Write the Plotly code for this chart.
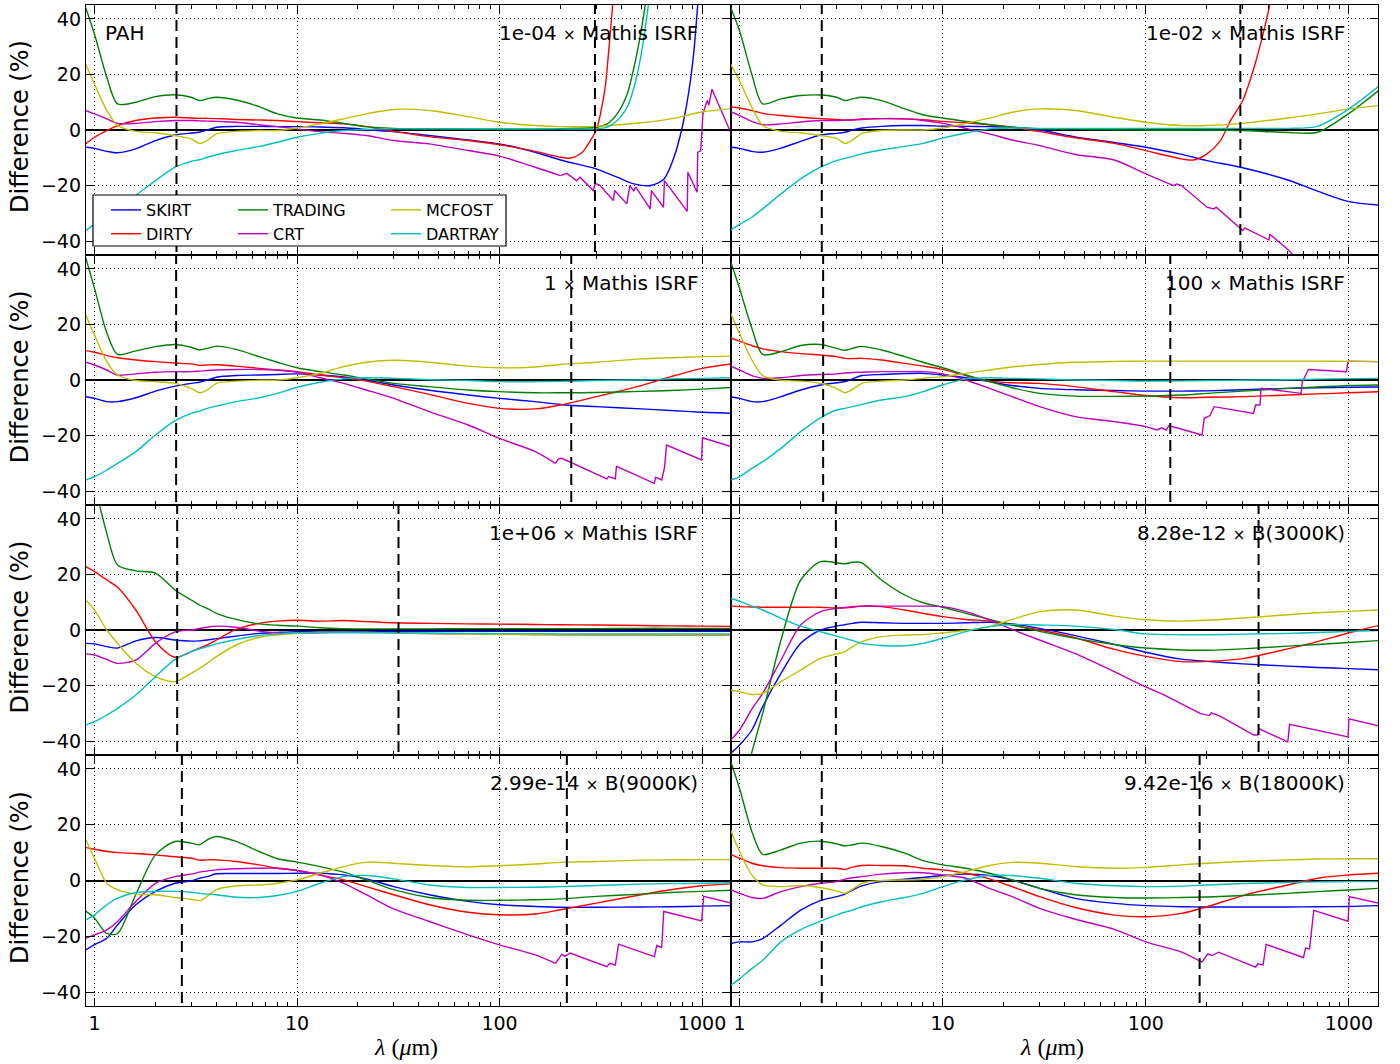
import plotly.graph_objects as go

# ---------------- data ----------------
W = [0.905, 1.0, 1.15, 1.3, 1.6, 2.0, 2.5, 3.0, 3.3, 3.6, 4.0, 5.0, 6.5, 8.0, 10, 13, 17, 22, 30,
     45, 70, 100, 150, 200, 300, 500, 700, 1000, 1395]
N = None

# Panel 1 : PAH, 1e-04 x Mathis ISRF
P1_SKIRT = [-6.2, -6.6, -7.7, -8.2, -6.8, -3.8, -1.8, -1.1, -0.8, 0.0, 1.0, 1.3, 1.3, 1.2, 1.2, 1.1, 0.8, 0.2, -0.6,
            -2.0, -3.6, -5.0, -8.0, -10.8, -14.0, N, N, N, N]
P1_SKIRT_TX = [381, 461, 557, 649, 727, 798, 861, 912, 947, 990]
P1_SKIRT_TY = [-17.0, -19.4, -20.0, -17.6, -9.8, 1.0, 14.0, 28.5, 43.0, 60.0]
P1_DIRTY = [-5.0, -2.6, -0.2, 1.6, 3.4, 4.3, 4.6, 4.3, 4.2, 4.2, 4.1, 3.8, 3.6, 3.4, 3.0, 2.6, 2.2, 1.2, -0.5,
            -2.4, -3.8, -5.3, -7.7, -9.8, N, N, N, N, N]
P1_DIRTY_TX = [224, 256, 281, 300, 315, 334, 346, 360, 375]
P1_DIRTY_TY = [-10.1, -8.0, -3.8, -0.2, 5.8, 16.5, 28.5, 43.0, 60.0]
P1_TRADING = [44, 34.5, 19, 9.4, 10, 12, 12.7, 11.8, 10.6, 11.2, 11.8, 10.8, 8.4, 5.8, 4.3, 3.6, 2.4, 1.2, 0.6,
              0.4, 0.3, 0.3, 0.3, 0.5, N, N, N, N, N]
P1_TRADING_TX = [300, 340, 381, 427, 461, 497, 526, 545]
P1_TRADING_TY = [1.0, 2.2, 5.8, 13.0, 22.5, 34.5, 46.0, 60.0]
P1_CRT = [7.0, 5.8, 4.0, 2.4, 2.4, 3.0, 3.4, 3.4, 3.3, 3.2, 3.1, 2.8, 1.9, 1.2, 0.4, -0.6, -1.2, -2.0, -3.8,
          -5.0, -7.4, -9.4, -13.4, N, N, N, N, N, N]
P1_CRT_TX = [200, 215, 240, 250, 290, 297, 312, 365, 370, 425, 440, 460, 470, 555, 562, 645, 652, 845, 851,
             945, 952, 985, 1010, 1060, 1080, 1120, 1395]
P1_CRT_TY = [-16.4, -15.6, -18.2, -17.0, -21.8, -19.2, -19.8, -25.4, -21.8, -26.6, -20.0, -22.0, -20.5, -28.4,
             -21.8, -27.8, -18.2, -29.3, -15.2, -22.4, -8.0, -7.5, 5.8, 10.6, 9.0, 14.7, -1.4]
P1_MCFOST = [23.7, 16.5, 7.0, 1.6, -0.5, -1.0, -2.0, -3.2, -4.8, -3.8, -1.4, -0.5, -0.2, -0.2, 0.7, 2.2, 4.0, 5.8,
             7.4, 7.0, 4.8, 2.8, 1.6, 1.2, 1.3, 2.6, 4.0, 6.5, 7.6]
P1_DARTRAY = [-36.2, -34.0, -31.2, -28.4, -23.5, -18.2, -13.4, -11.3, -10.7, -9.8, -8.9, -7.4, -5.9, -4.4, -2.6,
              -1.2, -0.2, 0.2, 0.4, 0.4, 0.4, 0.4, 0.4, 0.4, N, N, N, N, N]
P1_DARTRAY_TX = [300, 340, 381, 427, 461, 497, 536, 546, 560]
P1_DARTRAY_TY = [0.4, 1.0, 3.4, 8.2, 15.3, 26.0, 41.7, 46.5, 60.0]

# Panel 2 : 1e-02 x Mathis ISRF
P2_SKIRT = [-6.2, -6.6, -7.7, -8.0, -6.5, -4.1, -1.8, -1.2, -0.8, 0.0, 0.7, 1.3, 1.6, 1.6, 1.4, 1.3, 1.2, 1.0, 0.0,
            -2.5, -4.5, -6.2, -8.8, -11.0, -13.6, -18.0, -22.0, -25.8, -27.0]
P2_DIRTY = [8.4, 7.9, 7.0, 6.0, 5.2, 4.6, 4.1, 3.8, 3.6, 3.7, 4.0, 4.1, 4.0, 3.7, 3.1, 2.6, 1.9, 1.0, -0.6,
            -2.8, -4.8, -7.4, -10.4, N, N, N, N, N, N]
P2_DIRTY_TX = [172, 200, 233, 261, 300, 341, 381, 411, 440]
P2_DIRTY_TY = [-10.8, -8.6, -3.8, 3.4, 10.6, 22.5, 35.7, 46.5, 60.0]
P2_TRADING = [44, 35.7, 20, 9.4, 11.2, 12.4, 12.6, 11.8, 10.6, 11.2, 11.8, 10.6, 7.6, 5.5, 4.3, 3.1, 1.9, 1.0, 0.4,
              0.3, 0.1, 0.0, 0.0, 0.0, -0.2, -0.9, -0.8, 6.0, 14.1]
P2_CRT = [6.6, 5.2, 3.1, 1.9, 2.2, 2.9, 3.4, 3.4, 3.5, 3.6, 3.8, 4.1, 4.0, 3.4, 2.4, 0.6, -1.4, -3.6, -5.6,
          -8.8, -10.8, -15.8, N, N, N, N, N, N, N]
P2_CRT_TX = [137, 142, 150, 200, 216, 222, 300, 307, 404, 408, 497, 516, 578]
P2_CRT_TY = [-20.0, -19.4, -20.0, -27.8, -28.4, -27.8, -36.2, -35.2, -39.6, -37.5, -42.8, -44.0, -48.0]
P2_MCFOST = [23.7, 17.7, 8.2, 1.6, -0.5, -1.0, -2.0, -3.0, -4.8, -3.6, -1.2, -0.2, 0.0, 0.0, 0.7, 2.4, 4.3, 6.4,
             7.6, 7.0, 4.6, 2.8, 1.6, 1.6, 2.4, 4.3, 5.8, 7.6, 8.8]
P2_DARTRAY = [-36.0, -34.0, -31.4, -28.4, -23.0, -17.6, -13.4, -11.0, -10.2, -9.5, -8.6, -7.2, -5.9, -4.8, -2.9,
              -1.1, 0.4, 0.7, 0.6, 0.6, 0.6, 0.6, 0.6, 0.6, 0.6, 0.6, 1.3, 7.6, 15.6]

# Panel 3 : 1 x Mathis ISRF
P3_SKIRT = [-6.0, -6.6, -7.8, -7.8, -6.4, -4.0, -2.2, -1.2, -0.8, 0.0, 1.0, 1.6, 1.8, 2.0, 2.2, 1.8, 1.1, -0.1,
            -1.8, -3.7, -5.4, -6.6, -7.8, -8.8, -9.6, -10.4, -11.0, -11.6, -12.0]
P3_DIRTY = [10.6, 10.0, 8.8, 8.0, 7.2, 6.6, 6.1, 5.8, 5.3, 5.4, 5.5, 5.0, 4.2, 3.6, 3.0, 1.8, 0.8, -0.4, -2.4,
            -5.2, -8.4, -10.2, -10.4, -9.0, -6.0, -2.0, 1.2, 4.2, 5.8]
P3_TRADING = [44, 33, 17, 9.2, 10.5, 12.0, 12.8, 11.8, 10.8, 11.4, 12.2, 11.0, 8.4, 6.4, 4.4, 3.0, 1.8, 0.4, -1.2,
              -2.4, -3.6, -4.2, -4.6, -4.6, -4.5, -4.1, -3.8, -3.3, -2.7]
P3_CRT = [6.4, 5.4, 3.6, 1.8, 2.2, 2.8, 3.0, 3.0, 3.2, 3.4, 3.6, 3.8, 3.8, 3.6, 2.8, 0.8, -1.2, -3.6, -6.6,
          -11.4, -16.2, -21.0, -25.8, N, N, N, N, N, N]
P3_CRT_TX = [189, 195, 203, 217, 339, 345, 373, 378, 381, 581, 590, 632, 653, 668, 995, 1005, 1395]
P3_CRT_TY = [-30.0, -28.5, -28.2, -29.2, -35.6, -34.8, -35.6, -31.0, -31.2, -37.2, -35.0, -36.0, -31.5, -23.4,
             -28.8, -20.8, -24.0]
P3_MCFOST = [23.4, 16.2, 6.6, 1.8, -0.2, -0.6, -1.2, -3.0, -4.6, -3.6, -1.2, -0.4, -0.1, 0.0, 0.8, 2.4, 4.8, 6.4,
             7.1, 6.4, 5.0, 4.4, 4.7, 5.6, 6.4, 7.6, 8.0, 8.4, 8.6]
P3_DARTRAY = [-36.0, -34.8, -32.4, -30.0, -25.8, -19.8, -14.6, -12.0, -11.2, -10.2, -9.4, -7.8, -6.4, -4.8, -2.6,
              -0.8, 0.4, 0.8, 0.6, 0.1, -0.2, -0.6, -0.6, -0.5, -0.2, 0.0, 0.4, 0.6, 0.8]

# Panel 4 : 100 x Mathis ISRF
P4_SKIRT = [-6.0, -6.6, -7.8, -7.8, -6.0, -3.6, -1.8, -1.0, -0.6, 0.4, 1.6, 2.0, 2.3, 2.4, 1.8, 0.8, -0.6, -2.0,
            -3.0, -3.5, -3.8, -4.0, -4.0, -3.9, -3.5, -3.0, -2.8, -2.6, -2.5]
P4_DIRTY = [15.2, 14.0, 12.4, 11.2, 10.2, 9.5, 9.0, 8.4, 7.8, 7.7, 7.8, 7.2, 6.0, 5.0, 3.8, 1.6, -0.4, -1.0, -1.2,
            -2.4, -4.2, -5.6, -6.4, -6.2, -6.0, -5.4, -5.0, -4.6, -4.2]
P4_TRADING = [42.6, 33, 18.6, 9.2, 10.2, 12.4, 12.8, 11.4, 10.7, 11.4, 12.1, 10.8, 8.4, 6.4, 4.4, 1.8, -0.6, -2.8,
              -4.8, -5.8, -5.9, -5.8, -5.4, -4.8, -4.0, -3.0, -2.5, -2.0, -1.8]
P4_CRT = [5.0, 3.6, 1.6, 0.6, 0.8, 1.6, 2.0, 2.2, 2.5, 2.7, 2.8, 3.0, 3.0, 3.0, 2.2, 0.0, -3.0, -6.0, -9.6,
          -13.2, -15.0, -16.8, N, N, N, N, N, N, N]
P4_CRT_TX = [113, 120, 126, 130, 189, 194, 207, 217, 339, 347, 365, 369, 581, 590, 632, 972, 990, 1395]
P4_CRT_TY = [-18.0, -17.2, -18.0, -16.4, -19.8, -13.8, -12.8, -9.6, -12.0, -9.0, -9.0, -3.0, -4.8, -0.6, 3.8,
             3.0, 6.8, 6.6]
P4_MCFOST = [24.0, 16.8, 7.2, 1.6, -0.1, -0.4, -1.2, -3.0, -4.6, -3.4, -1.2, -0.4, 0.0, 0.6, 1.2, 2.4, 3.6, 4.7,
             5.6, 6.4, 6.7, 6.8, 6.8, 6.8, 6.8, 6.8, 6.8, 6.7, 6.6]
P4_DARTRAY = [-36.0, -34.8, -31.8, -29.4, -24.6, -18.6, -13.6, -10.8, -10.2, -9.6, -8.8, -7.2, -6.0, -4.2, -1.8,
              0.4, 0.8, 0.6, 0.4, 0.0, -0.2, -0.4, -0.3, -0.2, -0.1, 0.1, 0.3, 0.5, 0.6]

# Panel 5 : 1e+06 x Mathis ISRF
P5_SKIRT = [-4.8, -5.0, -6.0, -6.5, -3.9, -2.7, -3.6, -4.0, -3.9, -3.6, -3.1, -2.2, -1.2, -0.9, -0.6, -0.5, -0.5,
            -0.5, -0.5, -0.5, -0.5, -0.5, -0.5, -0.5, -0.5, -0.5, -0.5, -0.5, -0.5]
P5_DIRTY = [22.8, 21.0, 18.0, 15.4, 7.2, -4.2, -9.8, -7.8, -6.5, -5.4, -3.6, 0.2, 2.4, 3.2, 3.5, 3.2, 3.4, 3.0, 2.6,
            2.4, 2.2, 2.1, 2.0, 1.9, 1.8, 1.6, 1.5, 1.4, 1.3]
P5_TRADING = [62, 52, 34.8, 23.4, 21.3, 20.5, 14.4, 10.8, 9.0, 7.8, 6.0, 3.8, 2.2, 1.7, 1.4, 0.8, 0.5, 0.4, 0.4,
              0.4, 0.5, 0.5, 0.5, 0.5, 0.5, 0.6, 0.6, 0.6, 0.6]
P5_CRT = [-8.6, -9.0, -10.6, -12.0, -10.8, -4.8, -0.7, 0.0, 0.5, 1.0, 1.4, 1.0, -0.4, -1.0, -1.2, -1.0, -0.9,
          -0.9, -1.0, -1.3, -1.4, -1.5, -1.6, -1.7, -1.8, -1.8, -1.9, -1.9, -1.9]
P5_MCFOST = [10.8, 7.2, 0.0, -4.8, -12.0, -16.8, -18.6, -15.6, -13.8, -12.0, -9.6, -5.4, -2.6, -1.8, -1.2, -0.8,
             -0.8, -0.9, -1.0, -1.3, -1.5, -1.6, -1.7, -1.7, -1.8, -1.8, -1.8, -1.8, -1.8]
P5_DARTRAY = [-34.2, -33.0, -30.6, -28.2, -23.4, -16.8, -10.6, -7.8, -6.8, -6.0, -5.0, -3.4, -2.0, -1.4, -1.0,
              -0.9, -0.9, -0.9, -1.0, -1.1, -1.2, -1.3, -1.3, -1.4, -1.4, -1.4, -1.4, -1.4, -1.4]

# Panel 6 : 8.28e-12 x B(3000K)
P6_SKIRT = [-44.4, -41.4, -36.0, -27.6, -15.6, -4.8, 0.0, 1.4, 1.9, 2.4, 2.8, 2.6, 2.4, 2.4, 2.4, 2.6, 2.8, 2.2,
            0.6, -2.0, -5.2, -8.0, -10.5, -11.3, -12.2, -13.0, -13.5, -13.9, -14.3]
P6_DIRTY = [8.6, 8.4, 8.3, 8.2, 8.2, 8.2, 8.2, 7.9, 8.0, 8.2, 8.6, 8.4, 7.2, 6.0, 4.8, 3.8, 3.2, 1.8, 0.0,
            -2.8, -7.0, -9.5, -11.4, -11.3, -10.3, -6.8, -4.2, -1.0, 1.6]
P6_TRADING = [-75, -62, -44, -30, -3.6, 18.0, 24.6, 24.2, 23.8, 24.4, 24.2, 18.0, 12.6, 9.8, 8.2, 6.0, 3.8, 1.8,
              -0.5, -3.0, -5.2, -6.5, -7.2, -7.3, -6.8, -5.8, -5.2, -4.5, -3.8]
P6_CRT = [-39.6, -36.0, -28.5, -22.8, -10.8, 1.8, 6.6, 7.8, 8.1, 8.4, 8.6, 8.6, 8.6, 8.6, 8.4, 6.6, 3.6, 0.2, -3.6,
          -8.5, -15.0, -20.5, N, N, N, N, N, N, N]
P6_CRT_TX = [120, 185, 205, 210, 232, 340, 355, 360, 500, 510, 990, 1000, 1395]
P6_CRT_TY = [-23.0, -30.0, -30.8, -29.8, -31.0, -37.8, -37.8, -35.5, -40.3, -34.0, -38.5, -32.0, -34.5]
P6_MCFOST = [-21.6, -22.2, -23.2, -22.8, -18.6, -14.4, -10.2, -8.6, -7.8, -6.0, -4.2, -2.4, -1.8, -1.6, -1.0, -0.2,
             1.2, 3.8, 6.6, 7.2, 5.0, 3.7, 3.2, 3.5, 4.3, 5.5, 6.2, 6.7, 7.2]
P6_DARTRAY = [11.4, 10.4, 8.6, 7.2, 4.2, 1.4, -0.6, -2.2, -3.0, -3.8, -4.8, -5.6, -5.7, -4.8, -3.0, -0.6, 1.2,
              2.0, 1.8, 1.4, 0.2, -1.4, -1.7, -1.7, -1.5, -1.2, -0.9, -0.5, -0.2]

# Panel 7 : 2.99e-14 x B(9000K)
P7_SKIRT = [-24.9, -23.0, -20.7, -15.9, -8.7, -3.9, -1.0, -0.1, 0.8, 1.4, 2.4, 2.5, 2.5, 2.5, 2.6, 2.6, 2.0, 0.6,
            -2.2, -5.1, -7.5, -8.7, -9.3, -9.6, -9.6, -9.5, -9.4, -9.2, -9.0]
P7_DIRTY = [11.8, 11.2, 10.4, 10.0, 9.7, 9.2, 8.5, 8.0, 7.3, 7.4, 7.4, 6.8, 5.6, 4.4, 3.6, 2.0, 0.2, -2.2, -5.1,
            -8.7, -11.4, -12.3, -12.0, -10.5, -8.1, -5.1, -3.3, -1.9, -1.2]
P7_TRADING = [-11.0, -13.5, -19.0, -19.0, -5.0, 9.2, 14.0, 13.4, 12.8, 14.6, 15.8, 14.0, 10.4, 7.8, 6.6, 5.0, 3.0,
              0.2, -3.3, -6.1, -7.1, -7.1, -6.9, -6.6, -5.7, -4.9, -4.3, -3.9, -3.5]
P7_CRT = [-20.7, -19.5, -17.7, -14.7, -7.5, -1.0, 1.4, 2.3, 3.0, 3.4, 3.8, 4.2, 4.4, 4.4, 3.6, 2.0, -1.0, -5.1,
          -10.2, -14.7, -19.5, -23.1, -26.7, N, N, N, N, N, N]
P7_CRT_TX = [189, 203, 210, 223, 339, 350, 373, 387, 581, 598, 632, 647, 995, 1019, 1395]
P7_CRT_TY = [-29.7, -26.4, -27.2, -26.0, -30.9, -29.7, -30.3, -22.8, -27.3, -23.3, -24.0, -11.1, -14.5, -5.7, -8.1]
P7_MCFOST = [14.6, 8.0, -1.0, -3.3, -4.9, -5.1, -6.1, -6.7, -7.2, -5.7, -3.3, -1.9, -1.6, -1.0, 0.2, 2.6, 5.0,
             6.6, 6.2, 5.4, 4.9, 5.3, 5.9, 6.5, 6.8, 7.3, 7.4, 7.5, 7.5]
P7_DARTRAY = [-14.1, -12.3, -8.7, -6.3, -4.3, -3.9, -3.9, -4.2, -4.6, -4.9, -5.1, -6.0, -6.1, -5.4, -3.9, -1.0,
              1.4, 1.8, 0.6, -1.6, -2.5, -2.5, -2.4, -2.2, -1.8, -1.3, -1.1, -1.0, -0.7]

# Panel 8 : 9.42e-16 x B(18000K)
P8_SKIRT = [-22.6, -22.0, -22.0, -20.8, -16.0, -10.6, -7.2, -5.8, -4.9, -3.4, -1.9, -0.4, 0.5, 1.1, 1.8, 2.3, 1.8,
            0.2, -2.8, -6.4, -8.2, -9.0, -9.4, -9.5, -9.5, -9.5, -9.4, -9.3, -9.0]
P8_DIRTY = [9.4, 8.0, 6.2, 5.3, 4.6, 4.4, 4.4, 4.4, 4.0, 4.8, 5.4, 5.4, 5.3, 4.4, 3.8, 2.6, 0.6, -2.2, -5.8,
            -9.7, -12.4, -13.0, -11.8, -9.4, -5.4, -1.6, 0.8, 2.0, 2.6]
P8_TRADING = [42.7, 33, 17.6, 9.4, 11.0, 13.4, 14.1, 13.2, 12.4, 12.8, 13.4, 12.2, 9.8, 7.1, 5.6, 4.4, 2.6, 0.2,
              -2.8, -5.1, -6.1, -6.3, -6.1, -5.9, -5.4, -4.6, -4.0, -3.4, -2.8]
P8_CRT = [-3.4, -4.6, -6.1, -6.4, -4.0, -2.2, -1.0, -0.4, 0.5, 1.0, 1.4, 2.3, 2.8, 2.8, 2.0, 0.8, -2.8, -5.8,
          -10.0, -13.9, -17.5, -22.0, -25.7, N, N, N, N, N, N]
P8_CRT_TX = [189, 202, 212, 228, 347, 356, 378, 391, 597, 612, 640, 671, 990, 1005, 1395]
P8_CRT_TY = [-29.3, -26.3, -26.9, -25.7, -31.1, -29.9, -30.3, -22.9, -27.6, -24.2, -24.5, -10.7, -14.6, -5.8, -8.1]
P8_MCFOST = [17.9, 10.4, 2.0, -1.6, -2.2, -1.8, -2.5, -3.7, -4.6, -3.1, -1.0, 0.0, 0.2, 0.4, 1.4, 3.2, 5.4, 6.5,
             6.2, 5.0, 4.4, 4.7, 5.6, 6.2, 6.8, 7.4, 7.7, 7.8, 7.8]
P8_DARTRAY = [-37.6, -35.2, -31.6, -28.6, -22.0, -17.6, -14.6, -12.4, -11.4, -10.6, -9.4, -7.6, -6.1, -4.6, -2.2,
              0.2, 1.8, 1.8, 0.8, -1.0, -1.9, -2.2, -2.0, -1.6, -1.1, -0.7, -0.5, -0.4, -0.4]

# dashed vertical markers (two wavelengths per panel)
DASH_WL = [[2.54, 296], [2.54, 292], [2.53, 226], [2.58, 132],
           [2.56, 31.7], [2.98, 359], [2.70, 215], [2.54, 184]]
SCALE_TXT = ["1e-04", "1e-02", "1", "100", "1e+06", "8.28e-12", "2.99e-14", "9.42e-16"]
FIELD_TXT = ["Mathis ISRF"] * 5 + ["B(3000K)", "B(9000K)", "B(18000K)"]

SERIES = ["SKIRT", "DIRTY", "TRADING", "CRT", "MCFOST", "DARTRAY"]
COLORS = {"SKIRT": "#0000ff", "DIRTY": "#ff0000", "TRADING": "#008000",
          "CRT": "#bf00bf", "MCFOST": "#bfbf00", "DARTRAY": "#00bfbf"}
LEGEND_OF = {"SKIRT": "legend", "DIRTY": "legend", "TRADING": "legend2", "CRT": "legend2",
             "MCFOST": "legend3", "DARTRAY": "legend3"}

XTICKS = [1, 10, 100, 1000]
XMINOR = [m * d for d in (1, 10, 100) for m in range(2, 10)]
YTICKS = [-40, -20, 0, 20, 40]

g = globals()


def series_data(p, s):
    grid = g[f"P{p}_{s}"]
    tx = g.get(f"P{p}_{s}_TX")
    ty = g.get(f"P{p}_{s}_TY")
    xs, ys = [], []
    for w, v in zip(W, grid):
        if v is None:
            continue
        if tx is not None and w >= tx[0]:
            continue
        xs.append(w)
        ys.append(v)
    return xs, ys, tx, ty


# ---------------- figure ----------------
FW, FH = 1400, 1064
COLX = [(86, 731), (731, 1378)]
ROWY = [(5, 255), (255, 505), (505, 755), (755, 1006)]
FONT = "DejaVu Sans"

fig = go.Figure()

for p in range(1, 9):
    r, c = divmod(p - 1, 2)
    xa = "x" if p == 1 else f"x{p}"
    ya = "y" if p == 1 else f"y{p}"
    for s in SERIES:
        xs, ys, tx, ty = series_data(p, s)
        col = COLORS[s]
        show = (p == 1)
        if s == "CRT" and tx is not None:
            fig.add_trace(go.Scatter(x=xs + tx[:1], y=ys + ty[:1], mode="lines", xaxis=xa, yaxis=ya,
                                     line=dict(color=col, width=1.4, shape="spline", smoothing=0.8),
                                     name=s, legendgroup=s, legend=LEGEND_OF[s], showlegend=show,
                                     hoverinfo="skip"))
            fig.add_trace(go.Scatter(x=tx, y=ty, mode="lines", xaxis=xa, yaxis=ya,
                                     line=dict(color=col, width=1.4),
                                     name=s, legendgroup=s, legend=LEGEND_OF[s], showlegend=False,
                                     hoverinfo="skip"))
        else:
            if tx is not None:
                xs = xs + tx
                ys = ys + ty
            fig.add_trace(go.Scatter(x=xs, y=ys, mode="lines", xaxis=xa, yaxis=ya,
                                     line=dict(color=col, width=1.4, shape="spline", smoothing=0.8),
                                     name=s, legendgroup=s, legend=LEGEND_OF[s], showlegend=show,
                                     hoverinfo="skip"))
    for wl in DASH_WL[p - 1]:
        fig.add_trace(go.Scatter(x=[wl, wl], y=[-50, 50], mode="lines", xaxis=xa, yaxis=ya,
                                 line=dict(color="black", width=2, dash="11px,6px"),
                                 showlegend=False, hoverinfo="skip"))

    x0, x1 = COLX[c]
    y0, y1 = ROWY[r]
    xdom = [x0 / FW, x1 / FW]
    ydom = [1 - y1 / FH, 1 - y0 / FH]
    xk = "xaxis" if p == 1 else f"xaxis{p}"
    yk = "yaxis" if p == 1 else f"yaxis{p}"
    fig.layout[xk] = dict(
        domain=xdom, anchor=ya, type="log", range=[-0.042, 3.143],
        showline=True, linecolor="black", linewidth=1.3, mirror="ticks",
        ticks="inside", ticklen=8, tickwidth=1, tickcolor="black",
        tickmode="array", tickvals=XTICKS, ticktext=[str(t) for t in XTICKS],
        showticklabels=(r == 3), tickfont=dict(family=FONT, size=19, color="black"),
        showgrid=True, gridcolor="black", gridwidth=1, griddash="1px,3px",
        minor=dict(tickmode="array", tickvals=XMINOR, ticks="inside", ticklen=4,
                   tickwidth=1, tickcolor="black", showgrid=False),
        zeroline=False, fixedrange=True)
    fig.layout[yk] = dict(
        domain=ydom, anchor=xa, range=[-45, 45],
        showline=True, linecolor="black", linewidth=1.3, mirror="ticks",
        ticks="inside", ticklen=8, tickwidth=1, tickcolor="black",
        tickmode="array", tickvals=YTICKS,
        showticklabels=(c == 0), tickfont=dict(family=FONT, size=19, color="black"),
        showgrid=True, gridcolor="black", gridwidth=1, griddash="1px,3px",
        zeroline=True, zerolinecolor="black", zerolinewidth=1.5, fixedrange=True)

    fig.add_annotation(xref=f"{xa} domain", yref=f"{ya} domain", x=0.952, y=0.888,
                       xanchor="right", yanchor="middle", showarrow=False,
                       text=f"{SCALE_TXT[p-1]} <span style='font-size:15px'>×</span> {FIELD_TXT[p-1]}",
                       font=dict(family=FONT, size=20, color="black"))
    if p == 1:
        fig.add_annotation(xref=f"{xa} domain", yref=f"{ya} domain", x=0.026, y=0.888,
                           xanchor="left", yanchor="middle", showarrow=False, text="PAH",
                           font=dict(family=FONT, size=20, color="black"))
    if c == 0:
        fig.add_annotation(xref="paper", yref="paper", x=20 / FW, y=1 - (127 + 250.3 * r) / FH,
                           xanchor="center", yanchor="middle", textangle=-90, showarrow=False,
                           text="Difference (%)", font=dict(family=FONT, size=24, color="black"))
    if r == 3:
        fig.add_annotation(xref="paper", yref="paper", x=(406 if c == 0 else 1052) / FW, y=1 - 1047 / FH,
                           xanchor="center", yanchor="middle", showarrow=False,
                           text="<i>λ</i> (<i>μ</i>m)",
                           font=dict(family="Liberation Serif", size=24, color="black"))

# legend frame
fig.add_shape(type="rect", xref="paper", yref="paper", x0=93 / FW, x1=506 / FW,
              y0=1 - 246 / FH, y1=1 - 195 / FH, line=dict(color="black", width=1.2),
              fillcolor="white", layer="above")

leg_common = dict(yanchor="top", xanchor="left", bgcolor="rgba(0,0,0,0)", borderwidth=0,
                  font=dict(family=FONT, size=16, color="black"), tracegroupgap=0,
                  orientation="v", itemclick=False, itemdoubleclick=False)
fig.update_layout(
    width=FW, height=FH, margin=dict(l=0, r=0, t=0, b=0),
    paper_bgcolor="white", plot_bgcolor="white",
    font=dict(family=FONT, color="black"),
    legend=dict(x=106 / FW, y=1 - 193 / FH, **leg_common),
    legend2=dict(x=233 / FW, y=1 - 193 / FH, **leg_common),
    legend3=dict(x=386 / FW, y=1 - 193 / FH, **leg_common),
)

fig.write_html("out.html", config={"displayModeBar": False},
               post_script="document.body.style.margin='0';document.body.style.overflow='hidden';")
